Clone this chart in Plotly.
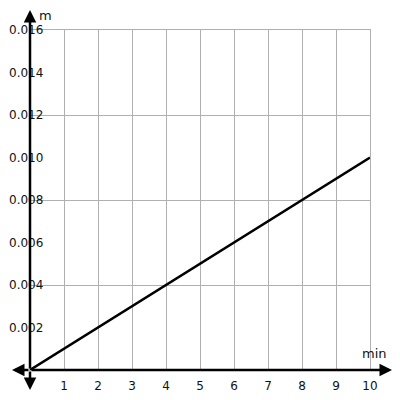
import plotly.graph_objects as go

# Data
time_min = [0, 10]
distance_m = [0, 0.010]
x_ticks = [1, 2, 3, 4, 5, 6, 7, 8, 9, 10]
y_ticks = [0.002, 0.004, 0.006, 0.008, 0.010, 0.012, 0.014, 0.016]
y_tick_labels = ["0.002", "0.004", "0.006", "0.008", "0.010", "0.012", "0.014", "0.016"]

X_MAX, Y_MAX = 10, 0.016
px_x = X_MAX / 340
px_y = Y_MAX / 340

fig = go.Figure()
fig.add_trace(go.Scatter(x=time_min, y=distance_m, mode="lines",
                         line=dict(color="black", width=2.5),
                         hoverinfo="skip", showlegend=False, cliponaxis=False))

font = dict(family="DejaVu Sans", size=12, color="#111111")
grid = "#b0b0b0"

fig.update_layout(
    width=400, height=400,
    margin=dict(l=22, r=38, t=22, b=38, autoexpand=False),
    plot_bgcolor="white", paper_bgcolor="white",
    xaxis=dict(range=[0, X_MAX], tickvals=x_ticks, ticktext=[str(v) for v in x_ticks],
               showgrid=True, gridcolor=grid, gridwidth=1,
               showline=True, linecolor=grid, linewidth=1, mirror=True,
               zeroline=False, ticks="", tickfont=font,
               ticklabelstandoff=5, fixedrange=True),
    yaxis=dict(range=[0, Y_MAX], tickvals=[0.004, 0.008, 0.012, 0.016],
               showticklabels=False, showgrid=True, gridcolor=grid, gridwidth=1,
               showline=True, linecolor=grid, linewidth=1, mirror=True,
               zeroline=False, ticks="", fixedrange=True),
)

# y tick labels
for v, t in zip(y_ticks, y_tick_labels):
    fig.add_annotation(x=0, y=v, xref="x", yref="y", text=t, showarrow=False,
                       xanchor="left", xshift=-23, font=font)

# Axis arrows (both ends)
arrow_style = dict(showarrow=True, arrowhead=2, arrowsize=1, arrowwidth=2.5,
                   arrowcolor="black", standoff=0, startstandoff=0, text="",
                   xref="x", yref="y", axref="x", ayref="y", ax=0, ay=0)
fig.add_annotation(x=-18 * px_x, y=0, **arrow_style)
fig.add_annotation(x=X_MAX + 22 * px_x, y=0, **arrow_style)
fig.add_annotation(x=0, y=Y_MAX + 20 * px_y, **arrow_style)
fig.add_annotation(x=0, y=-20 * px_y, **arrow_style)

# Axis titles
fig.add_annotation(x=0, y=Y_MAX, xref="x", yref="y", text="m", showarrow=False,
                   xshift=15, yshift=15, font=dict(family="DejaVu Sans", size=13, color="#111111"))
fig.add_annotation(x=X_MAX, y=0, xref="x", yref="y", text="min", showarrow=False,
                   xshift=4, yshift=17, font=dict(family="DejaVu Sans", size=13, color="#111111"))

fig.write_html("out.html")
